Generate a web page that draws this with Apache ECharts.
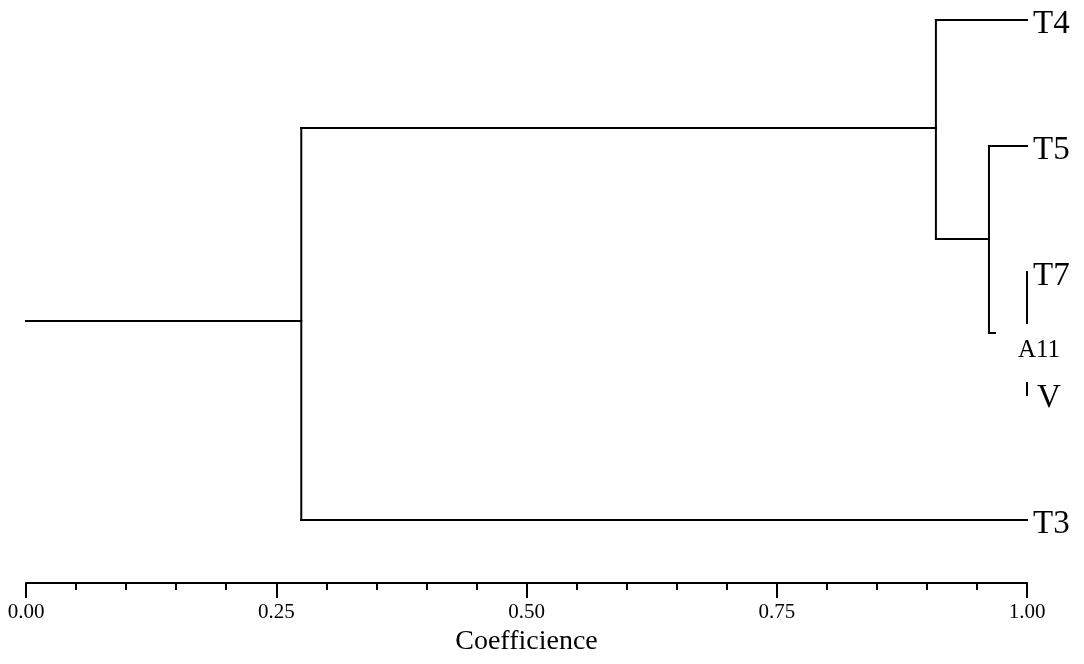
<!DOCTYPE html>
<html>
<head>
<meta charset="utf-8">
<script src="https://cdn.jsdelivr.net/npm/echarts@6/dist/echarts.min.js"></script>
<style>
  html, body { margin: 0; padding: 0; background: #fff; }
  #chart-container { width: 1084px; height: 664px; }
</style>
</head>
<body>
<div id="chart-container"></div>
<script>
var dom = document.getElementById("chart-container");
var myChart = echarts.init(dom, null, { renderer: "canvas" });

// leaves (row = vertical slot, top to bottom)
const leafNames = ["T4", "T5", "T7", "A11", "V", "T3"];
const leafRows = [0.04, 1.3, 2.56, 3.3, 3.78, 5.04];

// horizontal branches: [row, from coefficient, to coefficient]
const hBranches = [
  [3.01, 0, 0.275],
  [1.08, 0.275, 0.909],
  [5.0, 0.275, 1.0],
  [0.0, 0.909, 1.0],
  [2.19, 0.909, 0.962],
  [1.26, 0.962, 1.0],
  [3.13, 0.962, 0.968],
];

// vertical joins: [coefficient, top row, bottom row]
const vJoins = [
  [0.275, 1.08, 5.0],
  [0.909, 0.0, 2.19],
  [0.962, 1.26, 3.13],
  [1.0, 2.52, 3.03],
  [1.0, 3.63, 3.75],
];

// segments for the custom series: [x1, y1, x2, y2]
const segments = [];
hBranches.forEach(([r, a, b]) => segments.push([a, r, b, r]));
vJoins.forEach(([c, t, b]) => segments.push([c, t, c, b]));

const serif = "Liberation Serif";

// label placement tweaks (A11 sits centred under the T7 tick)
const labelData = leafNames.map((name, i) => {
  const item = { value: [1.0, leafRows[i]], name: name };
  if (name === "A11") {
    item.label = { position: "inside", offset: [12, 0], fontSize: 25 };
  } else if (name === "V") {
    item.label = { distance: 10 };
  }
  return item;
});

var option = {
  backgroundColor: "#fff",
  animation: false,
  grid: { left: 26, right: 57, top: 20, bottom: 144 },
  xAxis: {
    type: "value",
    position: "bottom",
    min: 0,
    max: 1,
    interval: 0.25,
    offset: 63,
    name: "Coefficience",
    nameLocation: "middle",
    nameGap: 38,
    nameTextStyle: { fontFamily: serif, fontSize: 28, color: "#000" },
    axisLine: { show: true, onZero: false, lineStyle: { color: "#000", width: 2 } },
    axisTick: { show: true, length: 15, lineStyle: { color: "#000", width: 2 } },
    minorTick: { show: true, splitNumber: 5, length: 7, lineStyle: { color: "#000", width: 2 } },
    axisLabel: {
      margin: 19,
      fontFamily: serif,
      fontSize: 21,
      color: "#000",
      formatter: (v) => v.toFixed(2),
    },
    splitLine: { show: false },
  },
  yAxis: {
    type: "value",
    min: 0,
    max: 5,
    inverse: true,
    show: false,
  },
  series: [
    {
      type: "custom",
      data: segments,
      encode: { x: [0, 2], y: [1, 3] },
      clip: false,
      silent: true,
      renderItem: function (params, api) {
        const p1 = api.coord([api.value(0), api.value(1)]);
        const p2 = api.coord([api.value(2), api.value(3)]);
        return {
          type: "line",
          shape: { x1: p1[0], y1: p1[1], x2: p2[0], y2: p2[1] },
          style: { stroke: "#000", lineWidth: 2, lineCap: "square" },
        };
      },
    },
    {
      type: "scatter",
      data: labelData,
      symbolSize: 0,
      silent: true,
      clip: false,
      itemStyle: { opacity: 1 },
      label: {
        show: true,
        position: "right",
        distance: 6,
        formatter: "{b}",
        fontFamily: serif,
        fontSize: 33,
        color: "#000",
      },
    },
  ],
};

if (option && typeof option === "object") {
  myChart.setOption(option);
}

window.addEventListener("resize", myChart.resize);
</script>
</body>
</html>
